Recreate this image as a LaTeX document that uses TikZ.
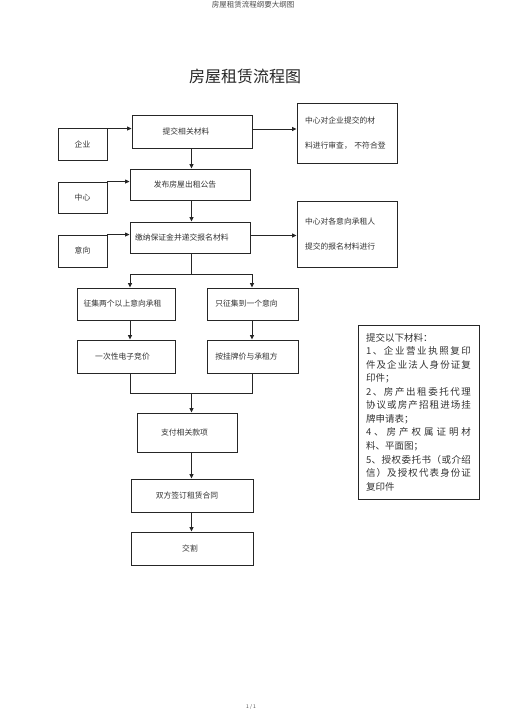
\documentclass[tikz,border=0pt]{standalone}
\usepackage{fontspec}
\setmainfont{Noto Sans CJK SC}
\usetikzlibrary{arrows.meta}
\newcommand\spreadline[1]{\makebox[105pt][s]{\spreadfirst#1\spreadend}}
\def\spreadend{}
\def\spreadfirst#1{#1\spreadrest}
\def\spreadrest#1{\ifx#1\spreadend\else\hfil#1\expandafter\spreadrest\fi}
\begin{document}
\begin{tikzpicture}[x=1pt,y=-1pt,
  box/.style={draw=black!85, line width=0.9pt, inner sep=0pt, text=black!80, font=\fontsize{7.8}{9}\selectfont},
  arr/.style={draw=black!85, line width=0.9pt, -{Triangle[length=4.5pt,width=4pt]}},
  ln/.style={draw=black!85, line width=0.9pt},
  lshift/.style={execute at end node={\hspace*{#1}}}
]
\useasboundingbox (0,0) rectangle (505,714);
\fill[white] (0,0) rectangle (505,714);
\node[text=black!70, font=\fontsize{7.5}{9}\selectfont] (hdr) at (253,5) {房屋租赁流程纲要大纲图};
\node[text=black!85, font=\fontsize{16}{18}\selectfont] (title) at (245,76) {房屋租赁流程图};

% left column boxes
\node[box, minimum width=49pt, minimum height=32pt] (qiye) at (82.5,144) {企业};
\node[box, minimum width=49pt, minimum height=31pt] (zhongxin) at (82.5,197.5) {中心};
\node[box, minimum width=49pt, minimum height=32pt] (yixiang) at (82.5,251) {意向};

% main column
\node[box, minimum width=120pt, minimum height=33pt, lshift=12pt] (tijiao) at (192,131.5) {提交相关材料};
\node[box, minimum width=120pt, minimum height=31pt, lshift=10pt] (fabu) at (190,184.5) {发布房屋出租公告};
\node[box, minimum width=120pt, minimum height=31pt, text width=110pt, inner xsep=5pt, align=left] (jiaona) at (190,237.5) {缴纳保证金并递交报名材料};

% right boxes
\node[box, minimum width=100pt, minimum height=60pt, text width=84pt, inner xsep=8pt, align=left, font=\fontsize{7.8}{25}\selectfont] (r1) at (347,133) {中心对企业提交的材\\料进行审查， 不符合登};
\node[box, minimum width=100pt, minimum height=66pt, text width=84pt, inner xsep=8pt, align=left, font=\fontsize{7.8}{25}\selectfont] (r2) at (347,234) {中心对各意向承租人\\提交的报名材料进行};

% branches
\node[box, minimum width=98pt, minimum height=32pt, lshift=7pt] (zj2) at (126,304) {征集两个以上意向承租};
\node[box, minimum width=91pt, minimum height=32pt, lshift=12pt] (zj1) at (252.5,304) {只征集到一个意向};
\node[box, minimum width=98pt, minimum height=33pt, lshift=7pt] (jj) at (126,356.5) {一次性电子竞价};
\node[box, minimum width=91pt, minimum height=33pt, lshift=12pt] (gp) at (252.5,356.5) {按挂牌价与承租方};

% lower column
\node[box, minimum width=100pt, minimum height=39pt, lshift=5pt] (zf) at (187,432.5) {支付相关款项};
\node[box, minimum width=122pt, minimum height=33pt, lshift=10pt] (qd) at (192,495.5) {双方签订租赁合同};
\node[box, minimum width=122pt, minimum height=33pt, lshift=4pt] (jg) at (192,548.5) {交割};

% list box
\node[draw=black!85, line width=0.9pt, text=black!80, text width=105pt, inner xsep=8pt, inner ysep=0pt, minimum height=174pt, align=left, font=\fontsize{9.5}{13.55}\selectfont] (list) at (418.5,412) {提交以下材料：\\
\spreadline{1、企业营业执照复印}\\
\spreadline{件及企业法人身份证复}\\
印件；\\
\spreadline{2、房产出租委托代理}\\
\spreadline{协议或房产招租进场挂}\\
牌申请表；\\
\spreadline{4、房产权属证明材}\\
料、平面图；\\
\spreadline{5、授权委托书（或介绍}\\
\spreadline{信）及授权代表身份证}\\
复印件};

\node[text=black!70, font=\fontsize{5}{6}\selectfont] (ftr) at (251,707) {1 / 1};

% connectors
\coordinate (spine) at (191.5,0);
\coordinate (c1) at ([yshift=-1pt]qiye.north east);
\draw[arr] (c1) -- (c1 -| tijiao.west);
\coordinate (c2) at ([yshift=2.5pt]tijiao.east);
\draw[arr] (c2) -- (c2 -| r1.west);
\coordinate (c3) at (zhongxin.north east);
\draw[arr] (c3) -- (c3 -| fabu.west);
\coordinate (c4) at (yixiang.north east);
\draw[arr] (c4) -- (c4 -| jiaona.west);
\coordinate (c5) at ([yshift=2pt]jiaona.east);
\draw[arr] (c5) -- (c5 -| r2.west);

\draw[arr] (spine |- tijiao.south) -- (spine |- fabu.north);
\draw[arr] (spine |- fabu.south) -- (spine |- jiaona.north);

\coordinate (sL) at (130,274);
\coordinate (sR) at (252,274);
\draw[ln] (spine |- jiaona.south) -- (spine |- sL);
\draw[ln] (sL) -- (sR);
\draw[arr] (sL) -- (sL |- zj2.north);
\draw[arr] (sR) -- (sR |- zj1.north);
\draw[arr] (sL |- zj2.south) -- (sL |- jj.north);
\draw[arr] (sR |- zj1.south) -- (sR |- gp.north);

\coordinate (jL) at (130,393);
\coordinate (jR) at (252,393);
\draw[ln] (sL |- jj.south) -- (jL) -- (jR) -- (sR |- gp.south);
\draw[arr] (spine |- jL) -- (spine |- zf.north);
\draw[arr] (spine |- zf.south) -- (spine |- qd.north);
\draw[arr] (spine |- qd.south) -- (spine |- jg.north);
\end{tikzpicture}
\end{document}
